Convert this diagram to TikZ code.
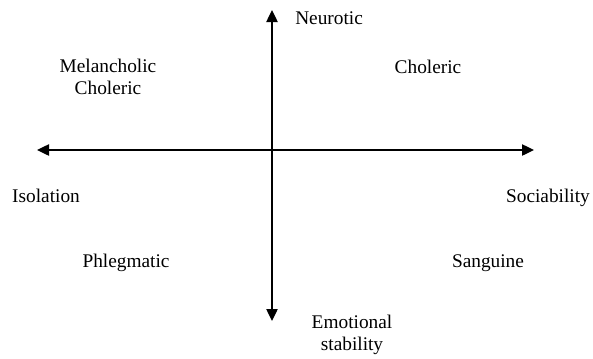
\documentclass[tikz,border=0pt]{standalone}
\usepackage{fontspec}
\setmainfont{Liberation Serif}
\usetikzlibrary{arrows.meta}

\begin{document}
\begin{tikzpicture}[
    x=0.75pt, y=-0.75pt,
    axis/.style={-{Triangle[length=9pt,width=8.5pt]}, line width=1pt, black},
    label/.style={font=\fontsize{14.5}{16.5}\selectfont, inner sep=0pt, align=center, anchor=base}
]
\useasboundingbox (0,0) rectangle (593,358);

% axes
\coordinate (origin) at (272,150);
\coordinate (top) at (272,10);
\coordinate (bottom) at (272,321);
\coordinate (left) at (37,150);
\coordinate (right) at (534,150);

\draw[axis] (origin) -- (top);
\draw[axis] (origin) -- (bottom);
\draw[axis] (origin) -- (left);
\draw[axis] (origin) -- (right);

% axis labels
\node[label, anchor=base west] (neurotic) at (295,24) {Neurotic};
\node[label] (emotional) at (352,350) {Emotional\\stability};
\node[label] (isolation) at (46,202) {Isolation};
\node[label] (sociability) at (548,202) {Sociability};

% quadrants
\node[label] (melancholic) at (108,94) {Melancholic\\Choleric};
\node[label] (choleric) at (428,73) {Choleric};
\node[label] (phlegmatic) at (126,267) {Phlegmatic};
\node[label] (sanguine) at (488,267) {Sanguine};

\end{tikzpicture}
\end{document}
